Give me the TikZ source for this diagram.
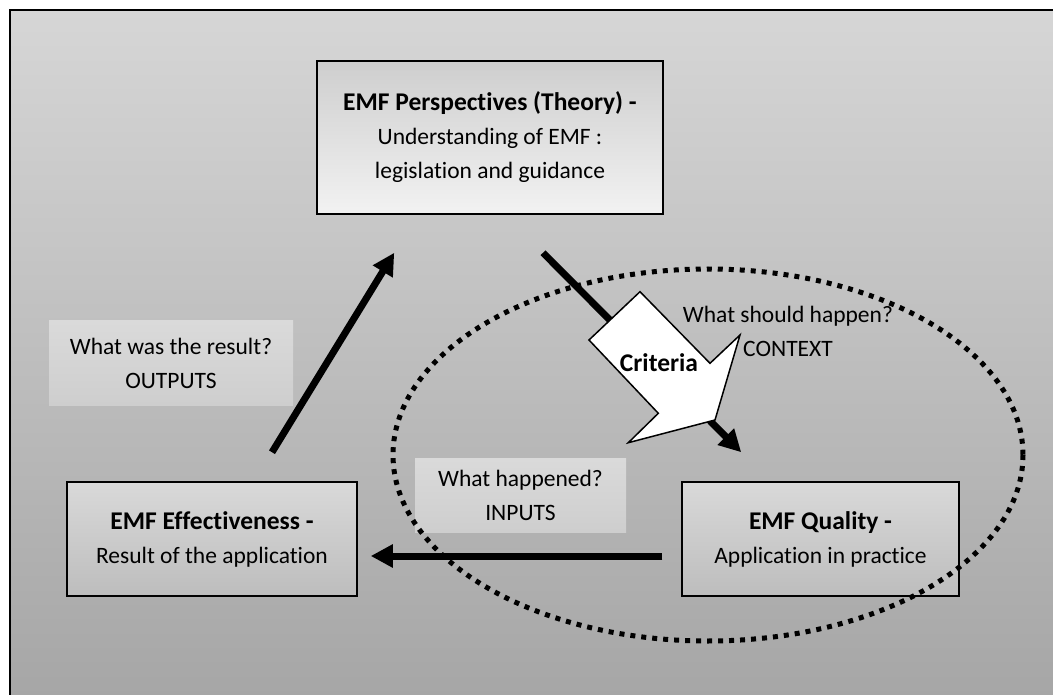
\documentclass[tikz,border=0pt]{standalone}
\usepackage{fontspec}
\setmainfont{Carlito}[Ligatures=NoCommon]
\usetikzlibrary{arrows.meta,shadings}

\definecolor{bgtop}{HTML}{D6D6D6}
\definecolor{bgbot}{HTML}{A5A5A5}
\definecolor{boxtop}{HTML}{D9D9D9}
\definecolor{boxbot}{HTML}{BDBDBD}
\definecolor{notetop}{HTML}{DADADA}
\definecolor{notebot}{HTML}{CECECE}

\newcommand{\headline}[1]{{\fontsize{25.5}{34}\selectfont\bfseries #1}}

\begin{document}
\begin{tikzpicture}[
    x=1pt, y=-1pt,
    >={Triangle[length=22pt,width=22pt]},
    every node/.style={align=center, inner sep=0pt, font=\fontsize{23.5}{34}\selectfont},
    box/.style={draw, line width=1.5pt, top color=boxtop, bottom color=boxbot},
    note/.style={top color=notetop, bottom color=notebot},
    flow/.style={->, line width=7pt},
    dots/.style={line width=5pt, dash pattern=on 5pt off 6pt}
]
  % frame
  \useasboundingbox (0,0) rectangle (1053,695);
  \clip (0,0) rectangle (1053,695);
  \draw[line width=2.5pt, top color=bgtop, bottom color=bgbot] (10,10) rectangle (1070,712);

  % nodes
  \node[box, top color=boxtop!95!black, bottom color=white!95!black,
        minimum width=346, minimum height=153] (P) at (490,137.5)
        {\headline{EMF Perspectives (Theory) -}\\Understanding of EMF :\\legislation and guidance};
  \node[box, minimum width=290, minimum height=114] (E) at (212,539)
        {\headline{EMF Effectiveness -}\\Result of the application};
  \node[box, minimum width=277, minimum height=114] (Q) at (820.5,539)
        {\headline{EMF Quality -}\\Application in practice};
  \node[note, minimum width=244, minimum height=84] (O) at (171,363)
        {What was the result?\\OUTPUTS};
  \node[note, minimum width=211, minimum height=74] (I) at (520.5,495)
        {What happened?\\INPUTS};
  \node (C) at (788,331) {What should happen?\\CONTEXT};

  % edges
  \draw[flow] ([shift={(60,-29)}]E.north) -- ([shift={(78,38)}]P.south west);
  \draw[flow] ([shift={(53,38)}]P.south) -- ([shift={(60,-29)}]Q.north west);
  \draw[flow] ([shift={(-19,17)}]Q.west) -- ([shift={(13,17)}]E.east);

  % criteria block arrow
  \draw[line width=1.5pt, fill=white, line join=miter]
    (640,291.7) -- (710,363.3) -- (740,335) -- (715,420) -- (628.3,442.7)
    -- (658.3,413.3) -- (589,340) -- cycle;
  \node (K) at (659,363) {\headline{Criteria}};

  % context ellipse
  \draw[dots] (708,455) ellipse [x radius=315, y radius=186];
\end{tikzpicture}
\end{document}
